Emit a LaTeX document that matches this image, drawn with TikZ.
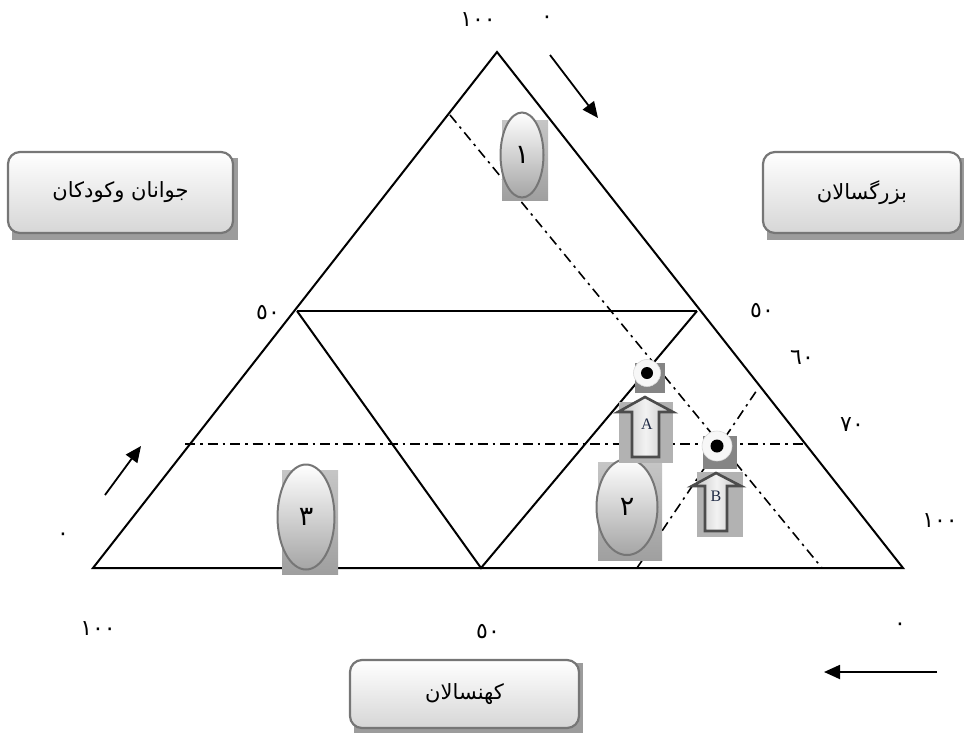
\documentclass[tikz,border=0pt]{standalone}
\usepackage{fontspec}
\usetikzlibrary{arrows.meta,shapes.geometric}
\newfontfamily\arabicfont[Script=Arabic]{DejaVu Sans}
\setmainfont{Liberation Serif}
\TeXXeTstate=1
\definecolor{edgegray}{HTML}{767676}
\definecolor{shadowgray}{HTML}{9C9C9C}
\definecolor{shadowdark}{HTML}{858585}
\definecolor{boxbottom}{HTML}{D6D6D6}
\definecolor{ellbottom}{HTML}{A5A5A5}
\definecolor{letterblue}{HTML}{1F2A44}
\tikzset{
  tri/.style={line width=2pt, black},
  midline/.style={line width=2.8pt, black},
  dashdot/.style={line width=1.6pt, black, dash pattern=on 10pt off 5pt on 2.5pt off 5pt},
  dirarrow/.style={line width=1.8pt, -{Triangle[length=16pt,width=14pt]}},
  rbox/.style={draw=edgegray, line width=2.2pt, rounded corners=12pt, top color=white, bottom color=boxbottom, inner sep=0pt},
  boxshadow/.style={fill=shadowgray, draw=none, inner sep=0pt},
  ell/.style={ellipse, draw=edgegray, line width=2pt, top color=white, bottom color=ellbottom, inner sep=0pt},
  ellshadow/.style={rectangle, draw=none, top color=gray!45, bottom color=gray!75, inner sep=0pt},
  num/.style={font=\arabicfont\fontsize{22}{24}\selectfont, inner sep=0pt},
  boxtext/.style={font=\arabicfont\fontsize{21}{24}\selectfont},
  ellnum/.style={font=\arabicfont\fontsize{27}{28}\selectfont},
  sq/.style={rectangle, fill=shadowdark, draw=none, inner sep=0pt},
  ring/.style={circle, fill=white!94!gray, draw=gray!30, line width=0.6pt, inner sep=0pt},
  blackdot/.style={circle, fill=black, inner sep=0pt},
  arrbody/.style={draw=gray!60!black, line width=2.6pt, left color=gray!50, right color=gray!50, middle color=white!90!gray},
  arrback/.style={fill=gray!60, draw=none},
  letter/.style={font=\fontsize{16}{17}\selectfont, text=letterblue, inner sep=0pt}
}
\begin{document}
\begin{tikzpicture}[x=1pt,y=-1pt]
\useasboundingbox (0,0) rectangle (964,734);

% main triangle
\coordinate (T) at (497,52);
\coordinate (L) at (93,568);
\coordinate (R) at (903,568);
\draw[tri, line join=miter] (T) -- (L) -- (R) -- cycle;

% inner triangle
\coordinate (mL) at (297,311);
\coordinate (mR) at (697,311);
\coordinate (mB) at (481,568);
\draw[midline] (mL) -- (mR);
\draw[tri] (mL) -- (mB) -- (mR);

% dash-dot lines
\coordinate (d1a) at (450,115);
\coordinate (d1b) at (822,568);
\draw[dashdot] (d1a) -- (d1b);
\coordinate (h1) at (185,444);
\coordinate (h2) at (805,444);
\draw[dashdot] (h1) -- (h2);
\coordinate (d2a) at (637,568);
\coordinate (d2b) at (757,390);
\draw[dashdot] (d2a) -- (d2b);

% ellipses with shadows
\node[ellshadow, minimum width=46pt, minimum height=80pt] (s1) at (525,160) {};
\node[ell, minimum width=43pt, minimum height=85pt, ellnum] (e1) at (522,155) {١};
\node[ellshadow, minimum width=56pt, minimum height=104pt] (s3) at (310,522) {};
\node[ell, minimum width=57pt, minimum height=105pt, ellnum] (e3) at (306,517) {٣};
\node[ellshadow, minimum width=64pt, minimum height=98pt] (s2) at (630,511) {};
\node[ell, minimum width=61pt, minimum height=96pt, ellnum] (e2) at (627,507) {٢};

% A marker
\node[sq, minimum width=30pt, minimum height=30pt] (sqA) at (650,378) {};
\node[ring, minimum size=27pt] (ringA) at (647,373) {};
\node[blackdot, minimum size=12pt] (dotA) at (ringA.center) {};
\node[arrback, minimum width=54pt, minimum height=61pt, inner sep=0pt] (backA) at (646,432) {};
\draw[arrbody] (645,397) -- (673,412) -- (659,412) -- (659,457) -- (632,457) -- (632,412) -- (618,412) -- cycle;
\node[letter] (labA) at (647,424) {A};

% B marker
\node[sq, minimum width=34pt, minimum height=33pt] (sqB) at (720,452) {};
\node[ring, minimum size=30pt] (ringB) at (717,446) {};
\node[blackdot, minimum size=13pt] (dotB) at (ringB.center) {};
\node[arrback, minimum width=46pt, minimum height=65pt, inner sep=0pt] (backB) at (720,504) {};
\draw[arrbody] (716,473) -- (741,486) -- (727,486) -- (727,531) -- (705,531) -- (705,486) -- (692,486) -- cycle;
\node[letter] (labB) at (716,496) {B};

% boxes
\node[boxshadow, minimum width=226pt, minimum height=82pt] (shL) at (125,199) {};
\node[rbox, minimum width=225pt, minimum height=81pt, boxtext] (boxL) at (120.5,192.5) {\beginR جوانان وکودکان\endR};
\node[boxshadow, minimum width=198pt, minimum height=82pt] (shR) at (866,199) {};
\node[rbox, minimum width=198pt, minimum height=81pt, boxtext] (boxR) at (862,192.5) {\beginR بزرگسالان\endR};
\node[boxshadow, minimum width=229pt, minimum height=70pt] (shB) at (468,698) {};
\node[rbox, minimum width=229pt, minimum height=68pt, boxtext] (boxB) at (464.5,694) {\beginR کهنسالان\endR};

% direction arrows
\coordinate (a1s) at (550,55);
\coordinate (a1e) at (598,118);
\draw[dirarrow] (a1s) -- (a1e);
\coordinate (a2s) at (105,495);
\coordinate (a2e) at (141,446);
\draw[dirarrow] (a2s) -- (a2e);
\coordinate (a3s) at (937,672);
\coordinate (a3e) at (824,672);
\draw[dirarrow] (a3s) -- (a3e);

% numbers
\node[num] (n1) at (478,20) {١٠٠};
\node[num] (n2) at (547,20) {٠};
\node[num] (n3) at (268,313) {٥٠};
\node[num] (n4) at (762,311) {٥٠};
\node[num] (n5) at (802,358) {٦٠};
\node[num] (n6) at (852,425) {٧٠};
\node[num] (n7) at (940,521) {١٠٠};
\node[num] (n8) at (63,537) {٠};
\node[num] (n9) at (98,629) {١٠٠};
\node[num] (n10) at (488,632) {٥٠};
\node[num] (n11) at (900,627) {٠};
\end{tikzpicture}
\end{document}
